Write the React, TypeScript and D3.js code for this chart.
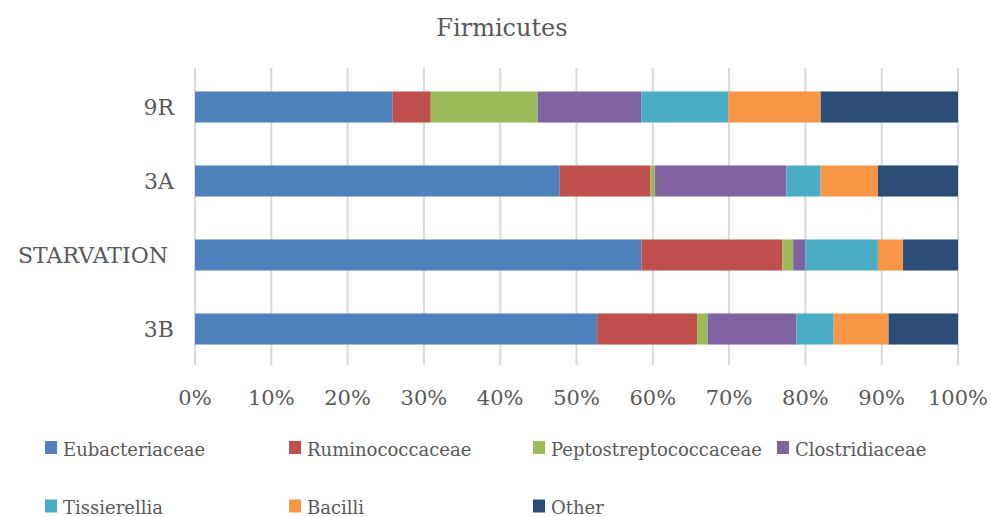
import * as d3 from "d3";

const categories = ["9R", "3A", "STARVATION", "3B"];
const seriesNames = [
    "Eubacteriaceae",
    "Ruminococcaceae",
    "Peptostreptococcaceae",
    "Clostridiaceae",
    "Tissierellia",
    "Bacilli",
    "Other",
];
// values per category, same order as categories
const eubacteriaceae = [25.9, 47.8, 58.5, 52.7];
const ruminococcaceae = [5.0, 11.9, 18.5, 13.1];
const peptostreptococcaceae = [14.0, 0.6, 1.4, 1.4];
const clostridiaceae = [13.6, 17.2, 1.6, 11.6];
const tissierellia = [11.4, 4.5, 9.5, 4.9];
const bacilli = [12.1, 7.5, 3.3, 7.2];
const other = [18.0, 10.5, 7.2, 9.1];
const tickValues = [0, 0.1, 0.2, 0.3, 0.4, 0.5, 0.6, 0.7, 0.8, 0.9, 1];

const colors = ["#4F81BD", "#C0504D", "#9BBB59", "#8064A2", "#4BACC6", "#F79646", "#2C4D75"];

const W = 991;
const H = 517;
const textColor = "#595959";

export default function App() {
    const seriesValues = [
        eubacteriaceae,
        ruminococcaceae,
        peptostreptococcaceae,
        clostridiaceae,
        tissierellia,
        bacilli,
        other,
    ];
    const rows = categories.map((c, i) => {
        const row: Record<string, any> = { cat: c };
        seriesNames.forEach((s, j) => (row[s] = seriesValues[j][i]));
        return row;
    });
    const stacked = d3.stack().keys(seriesNames).offset(d3.stackOffsetExpand)(rows as any);

    const x = d3.scaleLinear().domain([0, 1]).range([195, 958]);
    const y = d3.scaleBand().domain(categories).range([70, 366]).paddingInner(0.58).paddingOuter(0.29);
    const color = d3.scaleOrdinal<string>().domain(seriesNames).range(colors);
    const pct = d3.format(".0%");

    const legendCols = [45, 289, 533, 777];
    const legendRows = [447.5, 506];

    return (
        <svg
            width={W}
            height={H}
            style={{
                position: "absolute",
                left: 0,
                top: 0,
                background: "#fff",
                fontFamily: "'DejaVu Serif', serif",
            }}
        >
            <text x={502} y={36} textAnchor="middle" fontSize={24} fill={textColor}>
                Firmicutes
            </text>

            {tickValues.map(t => (
                <line key={t} x1={x(t)} x2={x(t)} y1={68} y2={365} stroke="#d9d9d9" strokeWidth={2} />
            ))}

            {stacked.map(layer => (
                <g key={layer.key} fill={color(layer.key)}>
                    {layer.map((d, i) => (
                        <rect
                            key={i}
                            x={x(d[0])}
                            width={x(d[1]) - x(d[0])}
                            y={y(categories[i])}
                            height={y.bandwidth()}
                        />
                    ))}
                </g>
            ))}

            {categories.map(c => (
                <text
                    key={c}
                    x={c === "STARVATION" ? 168 : 174}
                    y={(y(c) ?? 0) + y.bandwidth() / 2 + 8}
                    textAnchor="end"
                    fontSize={22}
                    fill={textColor}
                >
                    {c}
                </text>
            ))}

            {tickValues.map(t => (
                <text key={t} x={x(t)} y={405} textAnchor="middle" fontSize={21} fill={textColor}>
                    {pct(t)}
                </text>
            ))}

            {seriesNames.map((s, i) => {
                const cx = legendCols[i % 4];
                const cy = legendRows[Math.floor(i / 4)];
                return (
                    <g key={s}>
                        <rect x={cx} y={cy - 6.5} width={12} height={13} fill={color(s)} />
                        <text x={cx + 18} y={cy + 8} fontSize={18} fill={textColor}>
                            {s}
                        </text>
                    </g>
                );
            })}
        </svg>
    );
}
